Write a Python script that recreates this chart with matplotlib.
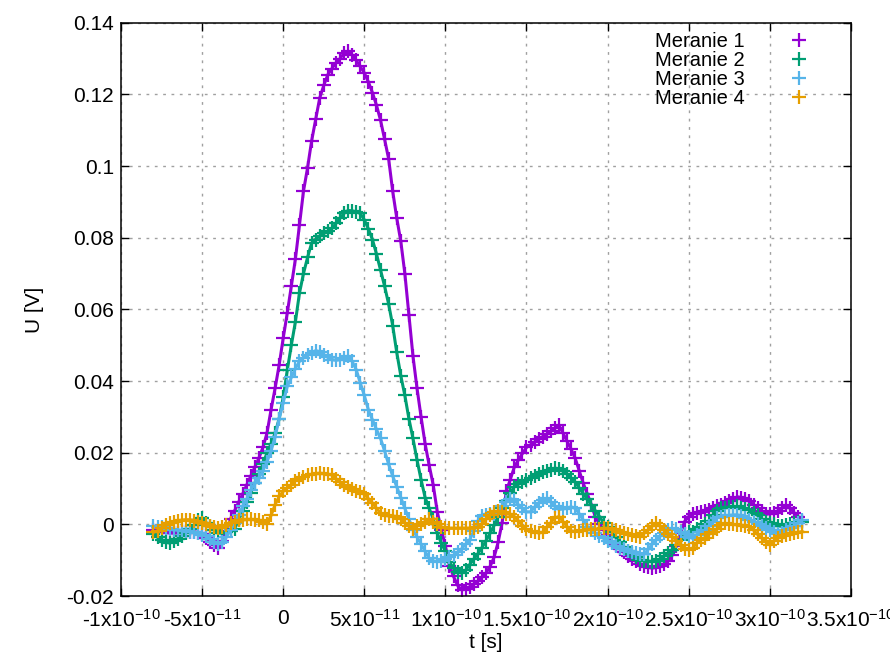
import numpy as np
import matplotlib
matplotlib.use("Agg")
import matplotlib.pyplot as plt

# ################### DATA ####################
# time axis in ps, one sample every 2.5 ps
t_ps = np.arange(-80, 320.1, 2.5)

meranie1 = [
    -0.0015, -0.0018, -0.0020, -0.0022, -0.0024, -0.0024, -0.0023, -0.0022,
    -0.0021, -0.0020, -0.0021, -0.0023, -0.0028, -0.0038, -0.0048, -0.0058,
    -0.0066, -0.0045, -0.0018, 0.0015, 0.0038, 0.0062, 0.0085, 0.0110,
    0.0135, 0.0160, 0.0185, 0.0215, 0.0255, 0.0320, 0.0380, 0.0445,
    0.0520, 0.0590, 0.0665, 0.0740, 0.0835, 0.0930, 0.0995, 0.1070,
    0.1130, 0.1190, 0.1225, 0.1255, 0.1272, 0.1288, 0.1300, 0.1315,
    0.1320, 0.1310, 0.1295, 0.1278, 0.1260, 0.1235, 0.1205, 0.1170,
    0.1128, 0.1075, 0.1020, 0.0930, 0.0855, 0.0790, 0.0700, 0.0585,
    0.0470, 0.0380, 0.0300, 0.0225, 0.0165, 0.0110, 0.0035, -0.0015,
    -0.0060, -0.0115, -0.0145, -0.0170, -0.0183, -0.0180, -0.0174, -0.0166,
    -0.0158, -0.0148, -0.0136, -0.0118, -0.0092, -0.0050, 0.0005, 0.0092,
    0.0125, 0.0160, 0.0180, 0.0198, 0.0215, 0.0222, 0.0230, 0.0237,
    0.0245, 0.0252, 0.0260, 0.0268, 0.0276, 0.0255, 0.0232, 0.0210,
    0.0185, 0.0150, 0.0115, 0.0085, 0.0055, 0.0020, 0.0002, -0.0015,
    -0.0030, -0.0048, -0.0058, -0.0068, -0.0078, -0.0088, -0.0097, -0.0103,
    -0.0110, -0.0115, -0.0120, -0.0122, -0.0120, -0.0116, -0.0110, -0.0101,
    -0.0085, -0.0060, -0.0025, 0.0008, 0.0022, 0.0030, 0.0032, 0.0034,
    0.0036, 0.0040, 0.0045, 0.0050, 0.0055, 0.0060, 0.0064, 0.0070,
    0.0077, 0.0075, 0.0070, 0.0064, 0.0055, 0.0046, 0.0037, 0.0028,
    0.0030, 0.0033, 0.0038, 0.0046, 0.0053, 0.0045, 0.0033, 0.0022,
    0.0010,
]

meranie2 = [
    -0.0028, -0.0036, -0.0043, -0.0050, -0.0052, -0.0046, -0.0040, -0.0032,
    -0.0024, -0.0014, -0.0002, 0.0012, 0.0018, 0.0005, -0.0005, -0.0015,
    -0.0023, -0.0025, -0.0022, -0.0018, -0.0012, 0.0012, 0.0038, 0.0062,
    0.0088, 0.0115, 0.0140, 0.0168, 0.0200, 0.0225, 0.0255, 0.0295,
    0.0355, 0.0430, 0.0500, 0.0565, 0.0645, 0.0700, 0.0745, 0.0785,
    0.0795, 0.0805, 0.0812, 0.0818, 0.0826, 0.0840, 0.0855, 0.0868,
    0.0876, 0.0875, 0.0872, 0.0868, 0.0850, 0.0825, 0.0795, 0.0755,
    0.0710, 0.0665, 0.0615, 0.0555, 0.0480, 0.0415, 0.0360, 0.0295,
    0.0240, 0.0180, 0.0125, 0.0075, 0.0045, 0.0015, -0.0025, -0.0052,
    -0.0075, -0.0105, -0.0122, -0.0133, -0.0136, -0.0128, -0.0112, -0.0097,
    -0.0082, -0.0065, -0.0046, -0.0025, -0.0003, 0.0022, 0.0045, 0.0065,
    0.0088, 0.0105, 0.0112, 0.0118, 0.0124, 0.0130, 0.0136, 0.0141,
    0.0145, 0.0149, 0.0153, 0.0157, 0.0155, 0.0148, 0.0140, 0.0130,
    0.0118, 0.0102, 0.0086, 0.0070, 0.0054, 0.0038, 0.0022, 0.0005,
    -0.0008, -0.0022, -0.0036, -0.0050, -0.0063, -0.0073, -0.0082, -0.0091,
    -0.0099, -0.0101, -0.0103, -0.0104, -0.0102, -0.0096, -0.0088, -0.0080,
    -0.0072, -0.0058, -0.0043, -0.0028, -0.0020, -0.0020, -0.0013, -0.0006,
    0.0000, 0.0010, 0.0025, 0.0038, 0.0045, 0.0047, 0.0048, 0.0049,
    0.0050, 0.0047, 0.0044, 0.0040, 0.0033, 0.0025, 0.0016, 0.0008,
    0.0004, 0.0000, -0.0004, -0.0005, -0.0002, 0.0001, 0.0003, 0.0006,
    0.0008,
]

meranie3 = [
    -0.0005, -0.0006, -0.0008, -0.0010, -0.0013, -0.0015, -0.0016, -0.0017,
    -0.0019, -0.0020, -0.0022, -0.0025, -0.0029, -0.0033, -0.0040, -0.0048,
    -0.0055, -0.0048, -0.0035, -0.0015, 0.0005, 0.0025, 0.0050, 0.0070,
    0.0095, 0.0115, 0.0130, 0.0150, 0.0175, 0.0205, 0.0245, 0.0295,
    0.0340, 0.0385, 0.0410, 0.0435, 0.0455, 0.0465, 0.0472, 0.0478,
    0.0485, 0.0482, 0.0474, 0.0466, 0.0460, 0.0458, 0.0460, 0.0465,
    0.0470, 0.0455, 0.0432, 0.0395, 0.0360, 0.0320, 0.0292, 0.0265,
    0.0240, 0.0205, 0.0168, 0.0135, 0.0105, 0.0075, 0.0045, 0.0015,
    -0.0015, -0.0035, -0.0055, -0.0075, -0.0095, -0.0102, -0.0104, -0.0102,
    -0.0097, -0.0092, -0.0086, -0.0078, -0.0068, -0.0055, -0.0043, -0.0018,
    0.0010, 0.0024, 0.0026, 0.0028, 0.0030, 0.0038, 0.0050, 0.0062,
    0.0072, 0.0068, 0.0055, 0.0045, 0.0035, 0.0035, 0.0048, 0.0060,
    0.0068, 0.0073, 0.0062, 0.0050, 0.0042, 0.0043, 0.0046, 0.0049,
    0.0045, 0.0030, 0.0012, -0.0006, -0.0015, -0.0024, -0.0032, -0.0039,
    -0.0045, -0.0052, -0.0059, -0.0065, -0.0069, -0.0073, -0.0077, -0.0081,
    -0.0084, -0.0083, -0.0070, -0.0055, -0.0043, -0.0033, -0.0024, -0.0016,
    -0.0011, -0.0013, -0.0020, -0.0028, -0.0035, -0.0039, -0.0030, -0.0022,
    -0.0016, -0.0005, 0.0008, 0.0018, 0.0022, 0.0024, 0.0025, 0.0026,
    0.0027, 0.0023, 0.0018, 0.0013, 0.0007, 0.0001, -0.0005, -0.0010,
    -0.0016, -0.0022, -0.0027, -0.0025, -0.0017, -0.0010, -0.0004, 0.0005,
    0.0012,
]

meranie4 = [
    -0.0022, -0.0018, -0.0010, -0.0003, 0.0003, 0.0008, 0.0010, 0.0012,
    0.0013, 0.0013, 0.0010, 0.0007, 0.0004, 0.0000, -0.0004, -0.0008,
    -0.0011, -0.0007, -0.0003, 0.0003, 0.0008, 0.0012, 0.0013, 0.0014,
    0.0014, 0.0013, 0.0012, 0.0007, 0.0002, 0.0025, 0.0055, 0.0078,
    0.0092, 0.0102, 0.0110, 0.0122, 0.0128, 0.0133, 0.0137, 0.0140,
    0.0142, 0.0143, 0.0142, 0.0140, 0.0138, 0.0128, 0.0118, 0.0110,
    0.0105, 0.0099, 0.0094, 0.0090, 0.0084, 0.0072, 0.0060, 0.0045,
    0.0032, 0.0025, 0.0024, 0.0023, 0.0022, 0.0015, 0.0005, -0.0005,
    -0.0012, -0.0005, 0.0002, 0.0008, 0.0014, 0.0008, 0.0000, -0.0007,
    -0.0011, -0.0011, -0.0011, -0.0011, -0.0011, -0.0011, -0.0011, -0.0011,
    -0.0008, 0.0002, 0.0014, 0.0025, 0.0034, 0.0037, 0.0034, 0.0030,
    0.0028, 0.0022, 0.0010, -0.0004, -0.0014, -0.0018, -0.0021, -0.0024,
    -0.0022, -0.0008, 0.0005, 0.0018, 0.0022, 0.0008, -0.0006, -0.0018,
    -0.0020, -0.0018, -0.0016, -0.0015, -0.0014, -0.0013, -0.0012, -0.0011,
    -0.0011, -0.0014, -0.0017, -0.0020, -0.0023, -0.0026, -0.0029, -0.0032,
    -0.0034, -0.0025, -0.0015, -0.0005, 0.0003, -0.0005, -0.0016, -0.0027,
    -0.0034, -0.0045, -0.0058, -0.0068, -0.0071, -0.0066, -0.0052, -0.0043,
    -0.0037, -0.0028, -0.0020, -0.0012, -0.0002, 0.0003, 0.0001, 0.0000,
    -0.0001, -0.0002, -0.0004, -0.0006, -0.0016, -0.0028, -0.0038, -0.0048,
    -0.0057, -0.0047, -0.0037, -0.0032, -0.0030, -0.0027, -0.0024, -0.0022,
    -0.0020,
]

series_labels = ["Meranie 1", "Meranie 2", "Meranie 3", "Meranie 4"]
series_colors = ["#9400d3", "#009e73", "#56b4e9", "#e69f00"]

xtick_values = [-1e-10, -5e-11, 0, 5e-11, 1e-10, 1.5e-10, 2e-10, 2.5e-10, 3e-10, 3.5e-10]
xtick_labels = ["-1x10$^{-10}$", "-5x10$^{-11}$", "0", "5x10$^{-11}$", "1x10$^{-10}$",
                "1.5x10$^{-10}$", "2x10$^{-10}$", "2.5x10$^{-10}$", "3x10$^{-10}$",
                "3.5x10$^{-10}$"]
ytick_values = [-0.02, 0, 0.02, 0.04, 0.06, 0.08, 0.1, 0.12, 0.14]
ytick_labels = ["-0.02", "0", "0.02", "0.04", "0.06", "0.08", "0.1", "0.12", "0.14"]


# ################### PLOT ####################
plt.rcParams["font.family"] = ["Liberation Sans", "DejaVu Sans"]
plt.rcParams["mathtext.fontset"] = "custom"
plt.rcParams["mathtext.rm"] = "Liberation Sans"
plt.rcParams["mathtext.it"] = "Liberation Sans"

fig = plt.figure(figsize=(8.9, 6.59), dpi=100)
ax = fig.add_axes([0.136, 0.0955, 0.820, 0.870])

t = t_ps * 1e-12
for values, label, color in zip([meranie1, meranie2, meranie3, meranie4],
                                series_labels, series_colors):
    ax.plot(t, values, "-", color=color, lw=2.2)
    ax.plot(t, values, "+", color=color, ms=10, mew=1.6, label=label)

ax.set_xlim(-1e-10, 3.5e-10)
ax.set_ylim(-0.02, 0.14)
ax.set_xticks(xtick_values)
ax.set_xticklabels(xtick_labels)
ax.set_yticks(ytick_values)
ax.set_yticklabels(ytick_labels)
ax.tick_params(direction="in", length=6, width=1, labelsize=15,
               top=True, right=True)
ax.tick_params(axis="x", pad=9)
ax.tick_params(axis="y", pad=5)
ax.grid(True, color="#a0a0a0", linestyle=(0, (2, 4)), linewidth=1)
for spine in ax.spines.values():
    spine.set_linewidth(1.1)

ax.set_xlabel("t [s]", fontsize=15, labelpad=2)
ax.set_ylabel("U [V]", fontsize=15, labelpad=16)

ax.legend(loc="upper right", bbox_to_anchor=(0.965, 1.012), frameon=False,
          markerfirst=False, fontsize=14.5, handlelength=1.0,
          handletextpad=2.2, labelspacing=0.0, borderpad=0.3)

fig.savefig("out.png", dpi=100)
